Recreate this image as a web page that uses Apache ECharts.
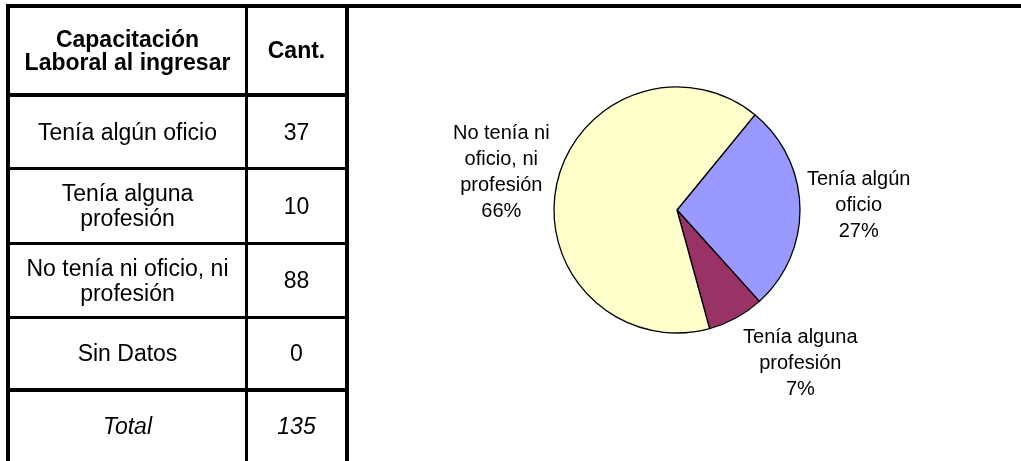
<!DOCTYPE html>
<html><head><meta charset="utf-8">
<script src="https://cdn.jsdelivr.net/npm/echarts@6/dist/echarts.min.js"></script>
<style>
html,body{margin:0;padding:0;background:#fff;width:1021px;height:461px;overflow:hidden;}
#chart{position:absolute;left:0;top:0;width:1021px;height:461px;}
#table{position:absolute;left:0;top:0;width:1021px;height:461px;font-family:"Liberation Sans",Arial,sans-serif;color:#000;pointer-events:none;}
.ln{position:absolute;background:#000;}
.cell{position:absolute;display:flex;align-items:center;justify-content:center;text-align:center;white-space:pre-line;font-size:23px;line-height:25px;}
</style></head><body>
<div id="chart"></div><div id="table"></div>
<script>
// ---- data ----
const headerLabels = ['Capacitación\nLaboral al ingresar', 'Cant.'];
const categories = ['Tenía algún oficio', 'Tenía alguna profesión', 'No tenía ni oficio, ni profesión', 'Sin Datos'];
const tableLabels = ['Tenía algún oficio', 'Tenía alguna\nprofesión', 'No tenía ni oficio, ni\nprofesión', 'Sin Datos'];
const counts = [37, 10, 88, 0];
const totalLabel = 'Total';
const totalValue = 135;
const pieLabels = ['Tenía algún\noficio', 'Tenía alguna\nprofesión', 'No tenía ni\noficio, ni\nprofesión', 'Sin Datos'];
const pctLabels = [27, 7, 66, 0];
const colors = ['#9999FF', '#993366', '#FFFFCC', '#CCFFFF'];

// ---- table (HTML) ----
const tbl = document.getElementById('table');
function line(x, y, w, h) { const d = document.createElement('div'); d.className = 'ln'; d.style.cssText = `left:${x}px;top:${y}px;width:${w}px;height:${h}px`; tbl.appendChild(d); }
function cell(x, y, w, h, text, style) { const d = document.createElement('div'); d.className = 'cell'; d.style.cssText = `left:${x}px;top:${y}px;width:${w}px;height:${h}px;` + (style || ''); d.textContent = text; tbl.appendChild(d); }
const rowTops = [8, 97, 170, 245, 319, 392];
const rowBots = [93, 167, 242, 316, 388, 461];
const col1 = [10, 245], col2 = [248, 345];
line(6, 4, 1015, 4);      // top rule
line(6, 4, 4, 457);       // left border
line(345, 4, 4, 457);     // right border
line(245, 8, 3, 453);     // column divider
line(10, 93, 335, 4);
line(10, 167, 335, 3);
line(10, 242, 335, 3);
line(10, 316, 335, 3);
line(10, 388, 335, 4);
cell(col1[0], rowTops[0], col1[1]-col1[0], rowBots[0]-rowTops[0], headerLabels[0], 'font-weight:bold;line-height:23px;');
cell(col2[0], rowTops[0], col2[1]-col2[0], rowBots[0]-rowTops[0], headerLabels[1], 'font-weight:bold;');
for (let i = 0; i < categories.length; i++) {
  cell(col1[0], rowTops[i+1], col1[1]-col1[0], rowBots[i+1]-rowTops[i+1], tableLabels[i]);
  cell(col2[0], rowTops[i+1], col2[1]-col2[0], rowBots[i+1]-rowTops[i+1], String(counts[i]));
}
cell(col1[0], rowTops[5], col1[1]-col1[0], rowBots[5]-rowTops[5], totalLabel, 'font-style:italic;');
cell(col2[0], rowTops[5], col2[1]-col2[0], rowBots[5]-rowTops[5], String(totalValue), 'font-style:italic;');

// ---- pie (ECharts) ----
const pieData = categories.map((c, i) => ({ name: c, value: counts[i], itemStyle: { color: colors[i] } })).filter(d => d.value > 0);
const CX = 677, CY = 210, R = 123, START = 50.7, GAP = 7;
function layoutLabel(params) {
  const vals = pieData.map(d => d.value);
  const tot = vals.reduce((a, b) => a + b, 0);
  let cum = 0; for (let k = 0; k < params.dataIndex; k++) cum += vals[k];
  const ang = (START - (cum + vals[params.dataIndex] / 2) / tot * 360) * Math.PI / 180;
  const dx = Math.cos(ang), dy = -Math.sin(ang);
  const px = CX + R * dx, py = CY + R * dy;
  const w = params.labelRect.width, h = params.labelRect.height;
  const m = Math.max(Math.abs(dx), Math.abs(dy));
  let x = px + dx / m * (w / 2 + GAP), y = py + dy / m * (h / 2 + GAP);
  const nx = Math.min(Math.max(CX, x - w / 2), x + w / 2), ny = Math.min(Math.max(CY, y - h / 2), y + h / 2);
  if (Math.hypot(nx - CX, ny - CY) < R + 2) {
    x = px + Math.sign(dx) * (w / 2 + GAP); y = py + Math.sign(dy) * (h / 2 + GAP);
  }
  return { x: x, y: y, align: 'center', verticalAlign: 'middle' };
}
const chart = echarts.init(document.getElementById('chart'), null, { renderer: 'canvas' });
chart.setOption({
  backgroundColor: '#ffffff',
  animation: false,
  series: [{
    type: 'pie',
    center: [CX, CY],
    radius: R,
    startAngle: START,
    clockwise: true,
    avoidLabelOverlap: false,
    itemStyle: { borderColor: '#000', borderWidth: 1.3 },
    emphasis: { disabled: true },
    label: {
      show: true, position: 'outside', color: '#000',
      fontFamily: 'Liberation Sans, Arial, sans-serif', fontSize: 20, lineHeight: 26,
      formatter: p => { const i = categories.indexOf(p.name); return pieLabels[i] + '\n' + pctLabels[i] + '%'; }
    },
    labelLine: { show: false },
    labelLayout: layoutLabel,
    data: pieData
  }]
});
</script>
</body></html>
